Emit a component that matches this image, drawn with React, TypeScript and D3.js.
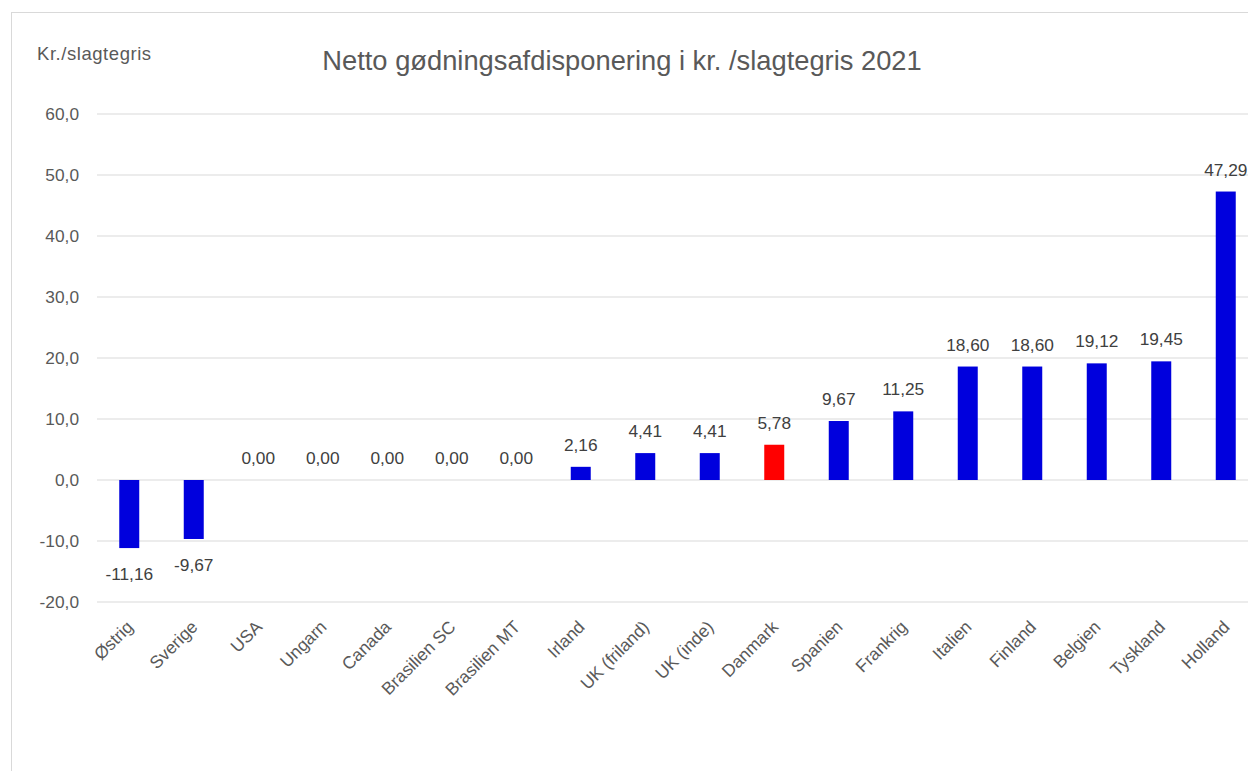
import React from "react";
import * as d3 from "d3";

const categories = ["Østrig", "Sverige", "USA", "Ungarn", "Canada", "Brasilien SC", "Brasilien MT", "Irland", "UK (friland)", "UK (inde)", "Danmark", "Spanien", "Frankrig", "Italien", "Finland", "Belgien", "Tyskland", "Holland"];
const values = [-11.16, -9.67, 0, 0, 0, 0, 0, 2.16, 4.41, 4.41, 5.78, 9.67, 11.25, 18.6, 18.6, 19.12, 19.45, 47.29];
const highlight = ["Danmark"];
const yTicks = [-20, -10, 0, 10, 20, 30, 40, 50, 60];
const title = "Netto gødningsafdisponering i kr. /slagtegris 2021";
const yLabel = "Kr./slagtegris";

const W = 1248, H = 771;
const FONT = "'Liberation Sans', Arial, sans-serif";
const fmt = (v: number, d: number) => v.toFixed(d).replace(".", ",");

export default function App() {
  const x = d3.scaleBand<string>().domain(categories).range([97, 1258]).paddingInner(0.69).paddingOuter(0.345);
  const y = d3.scaleLinear().domain([-20, 60]).range([602, 114]);
  const bw = x.bandwidth();
  return (
    <svg width={W} height={H} style={{ position: "absolute", left: 0, top: 0, background: "#fff" }} fontFamily={FONT}>
      <rect x={11.5} y={12.5} width={1300} height={800} fill="#fff" stroke="#d9d9d9" strokeWidth={1} />
      <text x={622} y={69.5} textAnchor="middle" fontSize={27.3} fill="#595959">{title}</text>
      <text x={37} y={59.5} fontSize={18.5} letterSpacing={0.55} fill="#595959">{yLabel}</text>
      {yTicks.map((t) => (
        <g key={t}>
          <line x1={97} x2={1258} y1={y(t)} y2={y(t)} stroke="#d9d9d9" strokeWidth={1} />
          <text x={79} y={y(t) + 6} textAnchor="end" fontSize={17.3} fill="#595959">{fmt(t, 1)}</text>
        </g>
      ))}
      {categories.map((c, i) => {
        const v = values[i];
        const x0 = x(c)!;
        const top = y(Math.max(0, v));
        const bot = y(Math.min(0, v));
        const cx = x0 + bw / 2;
        const ly = v < 0 ? bot + 32 : top - 16;
        return (
          <g key={c}>
            {v !== 0 && <rect x={x0} y={top} width={bw} height={bot - top} fill={highlight.includes(c) ? "#ff0000" : "#0000dd"} />}
            <text x={cx} y={ly} textAnchor="middle" fontSize={17.3} fill="#404040">{fmt(v, 2)}</text>
            <text transform={`translate(${cx + 5},${628}) rotate(-45)`} textAnchor="end" fontSize={17.5} fill="#595959">{c}</text>
          </g>
        );
      })}
    </svg>
  );
}
